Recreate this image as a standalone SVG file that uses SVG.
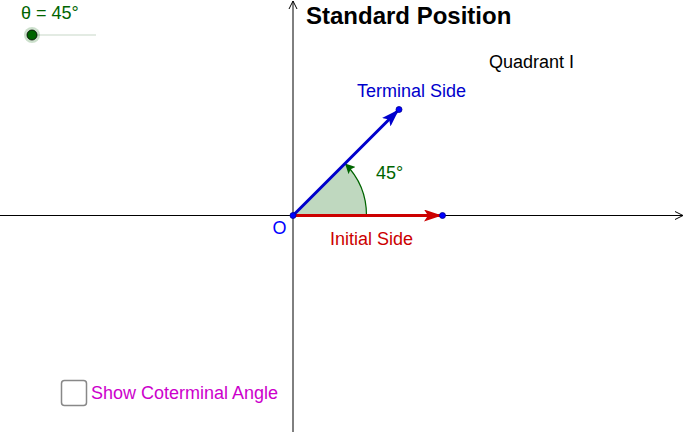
<svg xmlns="http://www.w3.org/2000/svg" width="685" height="432" viewBox="0 0 685 432">
<defs>
<style>
text{font-family:"Liberation Sans",Arial,sans-serif;font-size:18px}
.axis{stroke:#000;stroke-width:1;fill:none}
</style>
<marker id="axhead" markerWidth="10" markerHeight="10" refX="9" refY="5" orient="auto" markerUnits="userSpaceOnUse">
<path d="M1,1 L9,5 L1,9" fill="none" stroke="#000" stroke-width="1"/>
</marker>
<marker id="bluehead" markerWidth="20" markerHeight="12" refX="18" refY="6" orient="auto" markerUnits="userSpaceOnUse">
<path d="M0,0 L18,6 L0,12 L4,6 Z" fill="#0000cc"/>
</marker>
<marker id="redhead" markerWidth="20" markerHeight="12" refX="18" refY="6" orient="auto" markerUnits="userSpaceOnUse">
<path d="M0,0 L18,6 L0,12 L4,6 Z" fill="#cc0000"/>
</marker>
<marker id="greenhead" markerWidth="12" markerHeight="10" refX="10" refY="5" orient="auto" markerUnits="userSpaceOnUse">
<path d="M0,0 L10,5 L0,10 L2,5 Z" fill="#006400"/>
</marker>
</defs>
<rect width="685" height="432" fill="#fff"/>
<g id="connectors">
<line class="axis" x1="0" y1="215.5" x2="683" y2="215.5" marker-end="url(#axhead)"/>
<line class="axis" x1="293" y1="432" x2="293" y2="1" marker-end="url(#axhead)"/>
<path id="angle-sector" d="M293,215.5 L366.5,215.5 A73.5,73.5 0 0 0 345,163.5 Z" fill="#006400" fill-opacity="0.25" stroke="none"/>
<path d="M366.5,215.5 A73.5,73.5 0 0 0 345,163.5" fill="none" stroke="#006400" stroke-width="1.2" marker-end="url(#greenhead)"/>
<line x1="293" y1="215.5" x2="442" y2="215.5" stroke="#cc0000" stroke-width="3" marker-end="url(#redhead)"/>
<line x1="293" y1="215.5" x2="399" y2="109.5" stroke="#0000cc" stroke-width="3" marker-end="url(#bluehead)"/>
</g>
<g id="origin"><circle cx="293" cy="215.5" r="3" fill="#0000ff" stroke="#00008b" stroke-width="0.8"/><text x="272.5" y="234" fill="#0000ff">O</text></g>
<g id="initial-end"><circle cx="442.5" cy="215.5" r="3" fill="#0000ff" stroke="#00008b" stroke-width="0.8"/></g>
<g id="terminal-end"><circle cx="399" cy="109.5" r="3" fill="#0000ff" stroke="#00008b" stroke-width="0.8"/></g>
<g id="labels">
<text x="357" y="97" fill="#0000cc">Terminal Side</text>
<text x="330" y="245" fill="#cc0000">Initial Side</text>
<text x="376" y="179" fill="#006400">45°</text>
<text x="489" y="67.5" fill="#000">Quadrant I</text>
<text x="306" y="23.5" font-weight="bold" style="font-size:24px">Standard Position</text>
</g>
<g id="slider">
<text x="21" y="19" fill="#006400">θ = 45°</text>
<line x1="32" y1="35" x2="96" y2="35" stroke="#c8d8c8" stroke-width="1.2"/>
<circle cx="32" cy="35" r="8" fill="#006400" fill-opacity="0.2"/>
<circle cx="32" cy="35" r="5" fill="#006400" stroke="#000" stroke-width="0.8"/>
</g>
<g id="checkbox">
<rect x="61.5" y="380.5" width="25" height="25" rx="3" fill="#fff" stroke="#888" stroke-width="1.5"/>
<text x="91" y="399" fill="#cc00cc">Show Coterminal Angle</text>
</g>
</svg>
